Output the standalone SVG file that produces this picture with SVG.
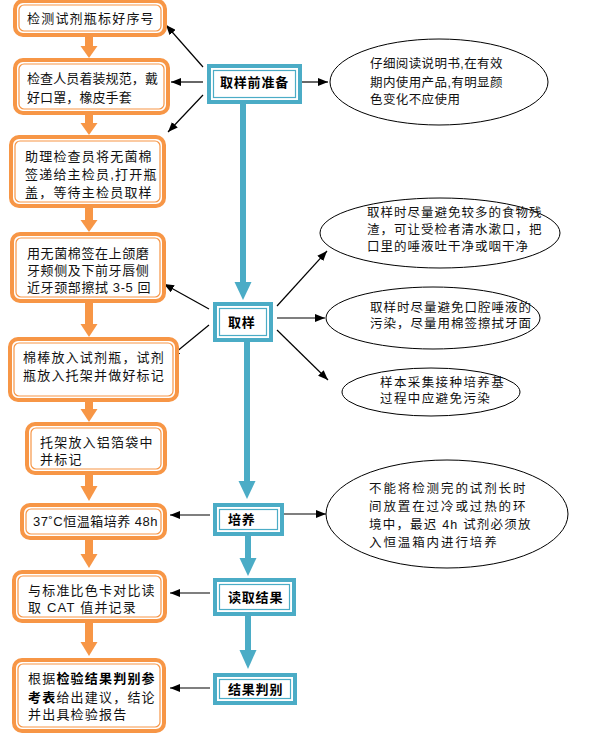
<svg xmlns="http://www.w3.org/2000/svg" width="593" height="740" viewBox="0 0 593 740">
<defs>
<style>
.bg{fill:#ffffff}
.oo{fill:#ffffff;stroke:#F79646;stroke-width:4}
.oi{fill:none;stroke:#F79646;stroke-width:1.2}
.bo{fill:#ffffff;stroke:#4BACC6;stroke-width:4}
.bi{fill:none;stroke:#4BACC6;stroke-width:1.2}
.oa{fill:#F79646}
.ba{fill:#4BACC6}
.bs{stroke:#4BACC6;stroke-width:6;fill:none}
.ln{stroke:#000;stroke-width:1.2;fill:none;marker-end:url(#ah)}
.el{fill:#ffffff;stroke:#000;stroke-width:1}
text{font-family:"Liberation Sans","Noto Sans CJK SC",sans-serif;font-size:13px;fill:#111;letter-spacing:1.2px}
.t{font-size:13px}
.e{font-size:12.5px;letter-spacing:1px}
.b{font-weight:bold;font-size:13px;letter-spacing:0.8px;fill:#000}
</style>
<marker id="ah" markerUnits="userSpaceOnUse" markerWidth="10" markerHeight="8" refX="10" refY="4" orient="auto">
<path d="M0,0 L10,4 L0,8 z" fill="#000"/>
</marker>
</defs>
<rect class="bg" x="0" y="0" width="593" height="740"/>

<g id="connectors">
<!-- orange flow arrows -->
<g id="orange-arrows">
<rect class="oa" x="85" y="37" width="8" height="10"/><polygon class="oa" points="80.5,46 97.5,46 89,58"/>
<rect class="oa" x="85" y="115" width="8" height="9"/><polygon class="oa" points="80.5,123 97.5,123 89,135"/>
<rect class="oa" x="85" y="208" width="8" height="13"/><polygon class="oa" points="80.5,220 97.5,220 89,232"/>
<rect class="oa" x="85" y="303" width="8" height="22"/><polygon class="oa" points="80.5,324 97.5,324 89,337"/>
<rect class="oa" x="85" y="402" width="8" height="9"/><polygon class="oa" points="80.5,409 97.5,409 89,422"/>
<rect class="oa" x="85" y="475" width="8" height="13"/><polygon class="oa" points="80.5,486 97.5,486 89,501"/>
<rect class="oa" x="85" y="540" width="8" height="16"/><polygon class="oa" points="80.5,554 97.5,554 89,568"/>
<rect class="oa" x="85" y="623" width="8" height="21"/><polygon class="oa" points="80.5,642 97.5,642 89,656"/>
</g>
<!-- blue flow arrows -->
<g id="blue-arrows">
<line class="bs" x1="243" y1="104" x2="243" y2="284"/><polygon class="ba" points="234.5,282 251.5,282 243,300"/>
<line class="bs" x1="247" y1="342" x2="247" y2="483"/><polygon class="ba" points="238.5,481 255.5,481 247,499"/>
<line class="bs" x1="248" y1="536" x2="248" y2="560"/><polygon class="ba" points="239.5,558 256.5,558 248,576"/>
<line class="bs" x1="248" y1="616" x2="248" y2="652"/><polygon class="ba" points="239.5,650 256.5,650 248,669"/>
</g>
<!-- black arrows -->
<g id="black-arrows">
<line class="ln" x1="203" y1="67" x2="166" y2="25"/>
<line class="ln" x1="203" y1="82" x2="171" y2="82"/>
<line class="ln" x1="203" y1="95" x2="168" y2="132"/>
<line class="ln" x1="302" y1="82" x2="328" y2="82"/>
<line class="ln" x1="209" y1="309" x2="164" y2="284"/>
<line class="ln" x1="209" y1="325" x2="170" y2="357"/>
<line class="ln" x1="277" y1="306" x2="327" y2="251"/>
<line class="ln" x1="277" y1="318" x2="325" y2="318"/>
<line class="ln" x1="277" y1="330" x2="328" y2="380"/>
<line class="ln" x1="210" y1="515" x2="170" y2="515"/>
<line class="ln" x1="284" y1="514" x2="326" y2="514"/>
<line class="ln" x1="210" y1="593" x2="170" y2="593"/>
<line class="ln" x1="210" y1="688" x2="170" y2="688"/>
</g>
</g>

<!-- orange step boxes -->
<g id="step1">
<rect class="oo" x="15" y="1" width="150" height="34" rx="8"/><rect class="oi" x="19" y="5" width="142" height="26" rx="5"/>
<text class="t" x="27" y="23">检测试剂瓶标好序号</text>
</g>
<g id="step2">
<rect class="oo" x="15" y="60" width="153" height="53" rx="8"/><rect class="oi" x="19" y="64" width="145" height="45" rx="5"/>
<text class="t" x="27" y="83" style="letter-spacing:0.1px">检查人员着装规范，戴</text>
<text class="t" x="27" y="102" style="letter-spacing:0.1px">好口罩，橡皮手套</text>
</g>
<g id="step3">
<rect class="oo" x="11" y="137" width="153" height="69" rx="8"/><rect class="oi" x="15" y="141" width="145" height="61" rx="5"/>
<text class="t" x="25" y="161">助理检查员将无菌棉</text>
<text class="t" x="25" y="179">签递给主检员,打开瓶</text>
<text class="t" x="25" y="197">盖，等待主检员取样</text>
</g>
<g id="step4">
<rect class="oo" x="12" y="234" width="152" height="67" rx="8"/><rect class="oi" x="16" y="238" width="144" height="59" rx="5"/>
<text class="t" x="27" y="258" style="letter-spacing:0.6px">用无菌棉签在上颌磨</text>
<text class="t" x="27" y="275" style="letter-spacing:0.6px">牙颊侧及下前牙唇侧</text>
<text class="t" x="27" y="292" style="letter-spacing:0.6px">近牙颈部擦拭 3-5 回</text>
</g>
<g id="step5">
<rect class="oo" x="10" y="339" width="167" height="61" rx="8"/><rect class="oi" x="14" y="343" width="159" height="53" rx="5"/>
<text class="t" x="23" y="362">棉棒放入试剂瓶，试剂</text>
<text class="t" x="23" y="380">瓶放入托架并做好标记</text>
</g>
<g id="step6">
<rect class="oo" x="27" y="424" width="138" height="49" rx="8"/><rect class="oi" x="31" y="428" width="130" height="41" rx="5"/>
<text class="t" x="40" y="447">托架放入铝箔袋中</text>
<text class="t" x="40" y="464">并标记</text>
</g>
<g id="step7">
<rect class="oo" x="22" y="505" width="143" height="33" rx="8"/><rect class="oi" x="26" y="509" width="135" height="25" rx="5"/>
<text class="t" x="33" y="526" style="letter-spacing:0.5px">37˚C恒温箱培养 48h</text>
</g>
<g id="step8">
<rect class="oo" x="14" y="572" width="151" height="49" rx="8"/><rect class="oi" x="18" y="576" width="143" height="41" rx="5"/>
<text class="t" x="28" y="595">与标准比色卡对比读</text>
<text class="t" x="28" y="612">取 CAT 值并记录</text>
</g>
<g id="step9">
<rect class="oo" x="14" y="660" width="150" height="71" rx="8"/><rect class="oi" x="18" y="664" width="142" height="63" rx="5"/>
<text class="t" x="28" y="683">根据<tspan font-weight="bold" fill="#000">检验结果判别参</tspan></text>
<text class="t" x="28" y="702"><tspan font-weight="bold" fill="#000">考表</tspan>给出建议，结论</text>
<text class="t" x="28" y="719">并出具检验报告</text>
</g>

<!-- blue stage boxes -->
<g id="stage-prep">
<rect class="bo" x="209" y="66" width="91" height="36"/><rect class="bi" x="213.5" y="70.5" width="82" height="27"/>
<text class="b" x="220" y="87">取样前准备</text>
</g>
<g id="stage-sample">
<rect class="bo" x="215" y="304" width="56" height="36"/><rect class="bi" x="219.5" y="308.5" width="47" height="27"/>
<text class="b" x="228" y="327">取样</text>
</g>
<g id="stage-culture">
<rect class="bo" x="215" y="505" width="67" height="29"/><rect class="bi" x="219.5" y="509.5" width="58" height="20"/>
<text class="b" x="228" y="524">培养</text>
</g>
<g id="stage-read">
<rect class="bo" x="215" y="580" width="79" height="34"/><rect class="bi" x="219.5" y="584.5" width="70" height="25"/>
<text class="b" x="228" y="602">读取结果</text>
</g>
<g id="stage-judge">
<rect class="bo" x="215" y="675" width="80" height="28"/><rect class="bi" x="219.5" y="679.5" width="71" height="19"/>
<text class="b" x="228" y="694">结果判别</text>
</g>

<!-- notes -->
<g id="note1">
<ellipse class="el" cx="439" cy="82" rx="109" ry="43"/>
<text class="e" x="370" y="68" style="letter-spacing:0.4px">仔细阅读说明书,在有效</text>
<text class="e" x="370" y="87" style="letter-spacing:0.4px">期内使用产品,有明显颜</text>
<text class="e" x="370" y="104" style="letter-spacing:0.4px">色变化不应使用</text>
</g>
<g id="note2">
<ellipse class="el" cx="440" cy="233" rx="120" ry="35"/>
<text class="e" x="367" y="217">取样时尽量避免较多的食物残</text>
<text class="e" x="367" y="234">渣，可让受检者清水漱口，把</text>
<text class="e" x="367" y="251">口里的唾液吐干净或咽干净</text>
</g>
<g id="note3">
<ellipse class="el" cx="433" cy="318" rx="107" ry="31"/>
<text class="e" x="370" y="312">取样时尽量避免口腔唾液的</text>
<text class="e" x="370" y="328">污染，尽量用棉签擦拭牙面</text>
</g>
<g id="note4">
<ellipse class="el" cx="431" cy="392" rx="89" ry="24"/>
<text class="e" x="380" y="387" style="letter-spacing:1.4px">样本采集接种培养基</text>
<text class="e" x="380" y="403" style="letter-spacing:1.4px">过程中应避免污染</text>
</g>
<g id="note5">
<ellipse class="el" cx="447" cy="514" rx="121" ry="54"/>
<text class="e" x="369" y="493" style="letter-spacing:1.9px">不能将检测完的试剂长时</text>
<text class="e" x="369" y="511" style="letter-spacing:1.9px">间放置在过冷或过热的环</text>
<text class="e" x="369" y="529" style="letter-spacing:1.2px">境中，最迟 4h 试剂必须放</text>
<text class="e" x="369" y="547" style="letter-spacing:1.9px">入恒温箱内进行培养</text>
</g>
</svg>
